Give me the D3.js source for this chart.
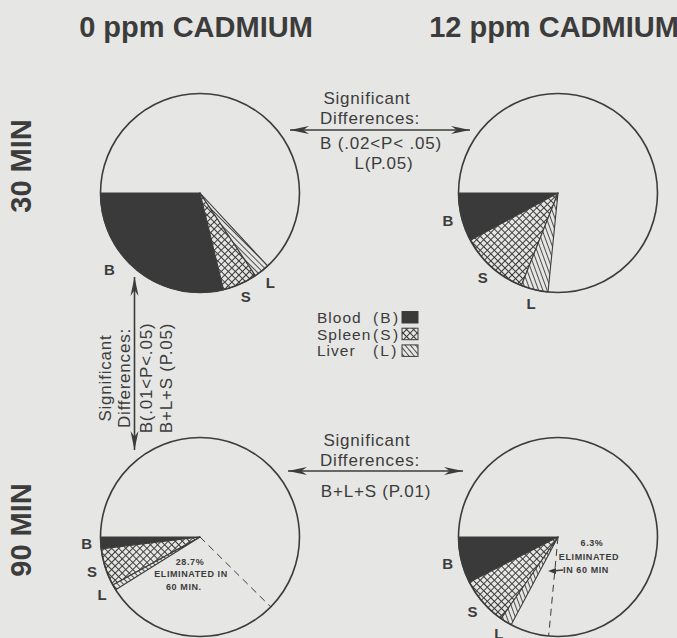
<!DOCTYPE html>
<html><head><meta charset="utf-8">
<script src="https://cdn.jsdelivr.net/npm/d3@7"></script>
<style>
html,body{margin:0;padding:0;background:#e6e6e4;}
svg{display:block;}
text{font-family:"Liberation Sans",Arial,Helvetica,sans-serif;fill:#3c3c3c;}
</style></head>
<body>
<script>
// ---------- data ----------
const doses = ["0 ppm CADMIUM", "12 ppm CADMIUM"];
const times = ["30 MIN", "90 MIN"];
const organs = ["Blood", "Spleen", "Liver"];
const organCodes = ["B", "S", "L"];
// percent of dose in each organ (Blood, Spleen, Liver) per pie
const pct0ppm30 = [28.8, 5.6, 2.5];
const pct12ppm30 = [7.9, 11.1, 4.4];
const pct0ppm90 = [1.9, 6.1, 0.9];
const pct12ppm90 = [7.5, 7.8, 1.9];
// percent eliminated in 60 min (90 MIN pies only)
const eliminated0ppm = 28.7;
const eliminated12ppm = 6.3;
const sigTop = ["Significant", "Differences:", "B (.02<P< .05)", "L(P.05)"];
const sigLeft = ["Significant", "Differences:", "B(.01<P<.05)", "B+L+S (P.05)"];
const sigBottom = ["Significant", "Differences:", "B+L+S (P.01)"];

const pies = [
  {dose: 0, time: 0, values: pct0ppm30, elim: null, hatch: "liverA"},
  {dose: 1, time: 0, values: pct12ppm30, elim: null, hatch: "liverB"},
  {dose: 0, time: 1, values: pct0ppm90, elim: eliminated0ppm, hatch: "liverA"},
  {dose: 1, time: 1, values: pct12ppm90, elim: eliminated12ppm, hatch: "liverB"}
];

// ---------- layout ----------
const W = 677, H = 638;
const ink = "#3c3c3c";
const svg = d3.select("body").append("svg").attr("width", W).attr("height", H);
svg.append("rect").attr("width", W).attr("height", H).attr("fill", "#e6e6e4");

const defs = svg.append("defs");
const cross = defs.append("pattern").attr("id", "spleen").attr("patternUnits", "userSpaceOnUse")
  .attr("width", 5).attr("height", 5).attr("patternTransform", "rotate(45)");
cross.append("rect").attr("width", 5).attr("height", 5).attr("fill", "#e6e6e4");
cross.append("path").attr("d", "M0,0.5H5M0.5,0V5").attr("stroke", ink).attr("stroke-width", 1);
function hatch(id, ang) {
  const p = defs.append("pattern").attr("id", id).attr("patternUnits", "userSpaceOnUse")
    .attr("width", 4).attr("height", 4).attr("patternTransform", `rotate(${ang})`);
  p.append("rect").attr("width", 4).attr("height", 4).attr("fill", "#e6e6e4");
  p.append("path").attr("d", "M0.5,0V4").attr("stroke", ink).attr("stroke-width", 0.9);
}
hatch("liverA", -45); hatch("liverB", -20); hatch("liverL", -40);
const fills = ["#3a3a3a", "url(#spleen)", null];

const cx = d3.scaleOrdinal(doses.map((d, i) => i), [200, 558]);
const cy = d3.scaleOrdinal(times.map((d, i) => i), [193, 537]);
const rowLabelY = d3.scaleOrdinal(times.map((d, i) => i), [166, 530]);
const R = 99.5;

const pieGen = d3.pie().sort(null).value(d => d.v)
  .startAngle(1.5 * Math.PI).endAngle(-0.5 * Math.PI);
const arc = d3.arc().innerRadius(0).outerRadius(R);

pies.forEach(p => {
  const vals = p.values.map((v, i) => ({k: organCodes[i], v}));
  if (p.elim != null) vals.push({k: "E", v: p.elim});
  const used = d3.sum(vals, d => d.v);
  vals.push({k: "R", v: 100 - used});
  const arcs = pieGen(vals);
  const g = svg.append("g").attr("transform", `translate(${cx(p.dose)},${cy(p.time)})`);
  arcs.slice(0, 3).forEach((a, i) => {
    g.append("path").attr("d", arc(a))
      .attr("fill", i === 2 ? `url(#${p.hatch})` : fills[i])
      .attr("stroke", ink).attr("stroke-width", 1.1).attr("stroke-linejoin", "round");
    // label at slice middle; very wide slices get their label nearer the slice start
    const span = a.startAngle - a.endAngle;
    const la = span > 1.2 ? a.startAngle - 0.7 : (a.startAngle + a.endAngle) / 2;
    const lr = span > 1.2 ? R + 19 : R + 14;
    g.append("text").attr("x", lr * Math.sin(la)).attr("y", -lr * Math.cos(la))
      .attr("text-anchor", "middle").attr("dominant-baseline", "central")
      .attr("font-size", 15).attr("font-weight", "bold").text(organCodes[i]);
  });
  g.append("circle").attr("r", R).attr("fill", "none").attr("stroke", ink).attr("stroke-width", 1.6);
  if (p.elim != null) {
    const e = arcs[3].endAngle;
    g.append("line").attr("x1", 0).attr("y1", 0)
      .attr("x2", R * Math.sin(e)).attr("y2", -R * Math.cos(e))
      .attr("stroke", ink).attr("stroke-width", 1).attr("stroke-dasharray", "7,5");
  }
  p.g = g;
});

// eliminated annotations
function smallText(g, x, y, t, anchor) {
  g.append("text").attr("x", x).attr("y", y).attr("text-anchor", anchor || "middle")
    .attr("font-size", 9).attr("font-weight", "bold").attr("letter-spacing", 0.6).text(t);
}
{
  const g = pies[2].g;
  smallText(g, -10, 28, eliminated0ppm + "%");
  smallText(g, -9, 40, "ELIMINATED IN");
  smallText(g, -34, 53, "60 MIN.", "start");
}
{
  const g = pies[3].g;
  smallText(g, 34, 9, eliminated12ppm + "%");
  smallText(g, 31, 23, "ELIMINATED");
  smallText(g, 28, 36, "IN 60 MIN");
  g.append("line").attr("x1", 5).attr("y1", 33).attr("x2", -6).attr("y2", 34)
    .attr("stroke", ink).attr("stroke-width", 1.3);
  g.append("path").attr("d", "M-10,34 L-2,31 L-2,37 Z").attr("fill", ink);
}

// arrows
function arrow(x1, y1, x2, y2, both) {
  const ang = Math.atan2(y2 - y1, x2 - x1);
  svg.append("line").attr("x1", x1).attr("y1", y1).attr("x2", x2).attr("y2", y2)
    .attr("stroke", ink).attr("stroke-width", 1.6);
  const head = (x, y, a) => {
    const L = 19, w = 4;
    const bx = x - L * Math.cos(a), by = y - L * Math.sin(a);
    const px = -Math.sin(a) * w, py = Math.cos(a) * w;
    svg.append("path").attr("d", `M${x},${y}L${bx + px},${by + py}L${bx + 0.3 * L * Math.cos(a)},${by + 0.3 * L * Math.sin(a)}L${bx - px},${by - py}Z`)
      .attr("fill", ink);
  };
  head(x2, y2, ang);
  if (both) head(x1, y1, ang + Math.PI);
}
arrow(290, 130, 470, 130, true);
arrow(288, 471, 463, 471, true);
arrow(134.5, 450, 134.5, 277, true);

// headers
svg.selectAll(".hdr").data(doses).join("text")
  .attr("x", (d, i) => cx(i) - 4).attr("y", 37).attr("text-anchor", "middle")
  .attr("font-size", 29).attr("font-weight", "bold").text(d => d);
svg.selectAll(".row").data(times).join("text")
  .attr("transform", (d, i) => `translate(31,${rowLabelY(i)}) rotate(-90)`)
  .attr("text-anchor", "middle").attr("font-size", 29).attr("font-weight", "bold").text(d => d);

// significance texts
const sigFont = 17, sigLS = 0.8;
const sigTopPos = [[367, 104], [370, 124], [381, 149], [384, 169]];
sigTop.forEach((t, i) => svg.append("text").attr("x", sigTopPos[i][0]).attr("y", sigTopPos[i][1])
  .attr("text-anchor", "middle").attr("font-size", sigFont).attr("letter-spacing", sigLS).text(t));
const sigBotPos = [[367, 446], [370, 466], [376, 497]];
sigBottom.forEach((t, i) => svg.append("text").attr("x", sigBotPos[i][0]).attr("y", sigBotPos[i][1])
  .attr("text-anchor", "middle").attr("font-size", sigFont).attr("letter-spacing", sigLS).text(t));
const sigLeftX = [111, 130, 152, 172];
sigLeft.forEach((t, i) => svg.append("text")
  .attr("transform", `translate(${sigLeftX[i]},378) rotate(-90)`)
  .attr("text-anchor", "middle").attr("font-size", sigFont).attr("letter-spacing", sigLS).text(t));

// legend
const legFill = ["#3a3a3a", "url(#spleen)", "url(#liverL)"];
organs.forEach((o, i) => {
  const y = 323 + i * 16.7;
  svg.append("text").attr("x", 317).attr("y", y).attr("font-size", 15.5).attr("letter-spacing", 1).text(o);
  svg.append("text").attr("x", 373).attr("y", y).attr("font-size", 15.5).attr("letter-spacing", 2.2)
    .text("(" + organCodes[i] + ")");
  svg.append("rect").attr("x", 402).attr("y", y - 11.5).attr("width", 16).attr("height", 11.5)
    .attr("fill", legFill[i]).attr("stroke", ink).attr("stroke-width", 1);
});
</script>
</body></html>
